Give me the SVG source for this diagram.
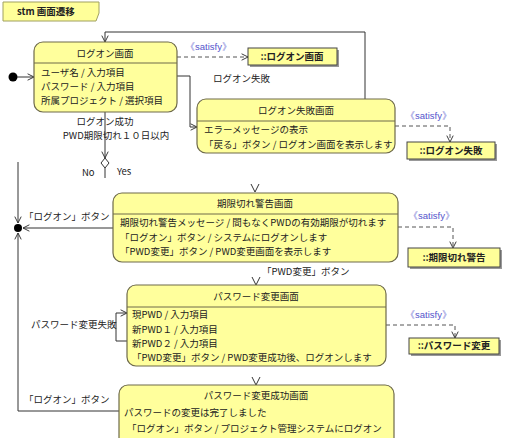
<svg xmlns="http://www.w3.org/2000/svg" width="506" height="438" viewBox="0 0 506 438">
<defs>
<marker id="arr" viewBox="0 0 10 10" refX="9" refY="5" markerWidth="8" markerHeight="8" orient="auto" markerUnits="userSpaceOnUse">
<path d="M1,1 L9,5 L1,9" fill="none" stroke="#333" stroke-width="1.2"/>
</marker>
</defs>
<style>
text{font-family:"Noto Sans CJK JP","Liberation Sans",sans-serif;font-size:9.5px;fill:#222}
.st{fill:#ffff9c;stroke:#6e6a4a;stroke-width:1.2}
.sep{stroke:#6e6a4a;stroke-width:1}
.req{fill:#ffff99;stroke:#444;stroke-width:1}
.sh{fill:#999}
.rq{font-weight:bold;font-size:9.5px}
.c{text-anchor:middle}
.ln{fill:none;stroke:#333;stroke-width:1}
.ds{fill:none;stroke:#555;stroke-width:1;stroke-dasharray:4,3}
.sat{fill:#5555cc;font-family:"Liberation Sans",sans-serif;font-size:9.5px}
</style>
<rect width="506" height="438" fill="#fff"/>
<g id="title">
<path d="M3,2 H99 V13 L96,21 H3 Z" fill="#ffff99" stroke="#a0a060"/>
<text x="17" y="15" style="font-weight:bold;font-size:9.5px">stm 画面遷移</text>
</g>
<g id="connectors">
<circle cx="13" cy="77" r="4.5" fill="#000"/>
<path class="ln" d="M17,77 H34" marker-end="url(#arr)"/>
<path class="ln" d="M365,100 V32 H105 V42" marker-end="url(#arr)"/>
<path class="ln" d="M177,76 H190 V127 H197" marker-end="url(#arr)"/>
<path class="ln" d="M105,112 V158" marker-end="url(#arr)"/>
<path d="M105,158 L109,163 L105,168 L101,163 Z" fill="#fff" stroke="#333"/>
<path class="ln" d="M105,168 V178"/>
<path class="ln" d="M251,184 L255,192 L259,184"/>
<path class="ln" d="M113,228 H23" marker-end="url(#arr)"/>
<path class="ln" d="M18,162 V223" marker-end="url(#arr)"/>
<path class="ln" d="M119,411 H18 V233" marker-end="url(#arr)"/>
<circle cx="18" cy="228" r="4" fill="#000"/>
<path class="ln" d="M252,277 L256,285 L260,277"/>
<path class="ln" d="M127,341 H116 V313 H127" marker-end="url(#arr)"/>
<path class="ln" d="M252,377 L256,385 L260,377"/>
<path class="ds" d="M177,57 H248" marker-end="url(#arr)"/>
<path class="ds" d="M395,126 H450 V142" marker-end="url(#arr)"/>
<path class="ds" d="M398,227 H453 V248" marker-end="url(#arr)"/>
<path class="ds" d="M386,325 H455 V338" marker-end="url(#arr)"/>
<text class="sat" x="185" y="50">《satisfy》</text>
<text class="sat" x="405" y="119">《satisfy》</text>
<text class="sat" x="408" y="219">《satisfy》</text>
<text class="sat" x="405" y="318">《satisfy》</text>
<text x="213" y="82">ログオン失敗</text>
<text class="c" x="105" y="125">ログオン成功</text>
<text class="c" x="116" y="139">PWD期限切れ１０日以内</text>
<text x="82" y="176">No</text>
<text x="117" y="175">Yes</text>
<text x="24" y="220">「ログオン」ボタン</text>
<text x="262" y="275">「PWD変更」ボタン</text>
<text x="31" y="328">パスワード変更失敗</text>
<text x="24" y="403">「ログオン」ボタン</text>
</g>
<g id="logon">
<rect class="st" x="34" y="42" width="143" height="70" rx="9"/>
<line class="sep" x1="34" y1="63" x2="177" y2="63"/>
<text class="c" x="105" y="57">ログオン画面</text>
<text x="41" y="76">ユーザ名 / 入力項目</text>
<text x="41" y="90">パスワード / 入力項目</text>
<text x="41" y="104">所属プロジェクト / 選択項目</text>
</g>
<g id="req-logon">
<rect class="sh" x="250" y="50" width="89" height="17"/>
<rect class="req" x="248" y="48" width="89" height="17"/>
<text class="rq c" x="292" y="60">::ログオン画面</text>
</g>
<g id="logonfail">
<rect class="st" x="197" y="99" width="198" height="54" rx="9"/>
<line class="sep" x1="197" y1="121" x2="395" y2="121"/>
<text class="c" x="296" y="114">ログオン失敗画面</text>
<text x="204" y="133">エラーメッセージの表示</text>
<text x="204" y="148">「戻る」ボタン / ログオン画面を表示します</text>
</g>
<g id="req-logonfail">
<rect class="sh" x="409" y="144" width="88" height="17"/>
<rect class="req" x="407" y="142" width="88" height="17"/>
<text class="rq c" x="451" y="154">::ログオン失敗</text>
</g>
<g id="expire">
<rect class="st" x="113" y="193" width="285" height="69" rx="9"/>
<line class="sep" x1="113" y1="214" x2="398" y2="214"/>
<text class="c" x="255" y="207">期限切れ警告画面</text>
<text x="120" y="226">期限切れ警告メッセージ / 間もなくPWDの有効期限が切れます</text>
<text x="120" y="241">「ログオン」ボタン / システムにログオンします</text>
<text x="120" y="255">「PWD変更」ボタン / PWD変更画面を表示します</text>
</g>
<g id="req-expire">
<rect class="sh" x="410" y="250" width="92" height="19"/>
<rect class="req" x="408" y="248" width="92" height="19"/>
<text class="rq c" x="454" y="261">::期限切れ警告</text>
</g>
<g id="pwchange">
<rect class="st" x="127" y="285" width="259" height="81" rx="9"/>
<line class="sep" x1="127" y1="307" x2="386" y2="307"/>
<text class="c" x="256" y="300">パスワード変更画面</text>
<text x="132" y="318">現PWD / 入力項目</text>
<text x="132" y="333">新PWD１ / 入力項目</text>
<text x="132" y="347">新PWD２ / 入力項目</text>
<text x="132" y="361">「PWD変更」ボタン / PWD変更成功後、ログオンします</text>
</g>
<g id="req-pwchange">
<rect class="sh" x="411" y="340" width="90" height="16"/>
<rect class="req" x="409" y="338" width="90" height="16"/>
<text class="rq c" x="454" y="349">::パスワード変更</text>
</g>
<g id="pwdone">
<rect class="st" x="119" y="385" width="275" height="62" rx="9"/>
<text class="c" x="256" y="399">パスワード変更成功画面</text>
<text x="124" y="416">パスワードの変更は完了しました</text>
<text x="127" y="432">「ログオン」ボタン / プロジェクト管理システムにログオン</text>
</g>
</svg>
